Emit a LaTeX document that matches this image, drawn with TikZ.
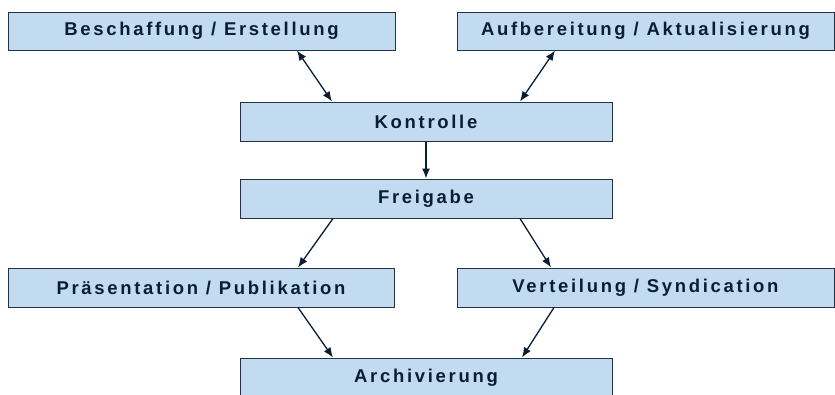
\documentclass[tikz,border=0pt]{standalone}
\usepackage{fontspec}
\setmainfont[LetterSpace=14.5]{Liberation Sans}
\usepackage{tikz}
\usetikzlibrary{arrows.meta}
\definecolor{boxfill}{RGB}{195,219,241}
\definecolor{boxline}{RGB}{35,50,71}
\definecolor{boxtext}{RGB}{11,29,51}
\begin{document}
\begin{tikzpicture}
        [
        x=1pt,y=-1pt,
        box/.style={rectangle,draw=boxline,fill=boxfill,line width=1pt,
            inner sep=0pt,text=boxtext,font=\fontsize{18.5}{20}\selectfont\bfseries},
        edge/.style={->,> = {Latex[length=10pt,width=8pt]},line width=1.3pt,draw=boxtext}
        ]
    \useasboundingbox (0,0) rectangle (835,394);
    \node[box,minimum width=387pt,minimum height=38pt] (besch) at (201.5,31) {Beschaffung / Erstellung};
    \node[box,minimum width=377pt,minimum height=38pt] (aufb) at (645.5,31) {Aufbereitung / Aktualisierung};
    \node[box,minimum width=372pt,minimum height=39pt] (kontr) at (426,121.5) {Kontrolle};
    \node[box,minimum width=372pt,minimum height=39pt] (frei) at (426,198.5) {Freigabe};
    \node[box,minimum width=386pt,minimum height=39pt] (praes) at (201,287.5) {Präsentation / Publikation};
    \node[box,minimum width=377pt,minimum height=39pt] (vert) at (645.5,287.5) {Verteilung / Syndication};
    \node[box,minimum width=372pt,minimum height=39pt] (arch) at (426,377.5) {Archivierung};
    \draw[edge,<->] ([xshift=95.5pt]besch.south) -- ([xshift=-94pt]kontr.north);
    \draw[edge,<->] ([xshift=-90.5pt]aufb.south) -- ([xshift=94pt]kontr.north);
    \draw[edge] (kontr) -- (frei);
    \draw[edge] ([xshift=-93pt]frei.south) -- ([xshift=97pt]praes.north);
    \draw[edge] ([xshift=94pt]frei.south) -- ([xshift=-94.5pt]vert.north);
    \draw[edge] ([xshift=97pt]praes.south) -- ([xshift=-93pt]arch.north);
    \draw[edge] ([xshift=-91.5pt]vert.south) -- ([xshift=96pt]arch.north);
    \end{tikzpicture}
\end{document}
